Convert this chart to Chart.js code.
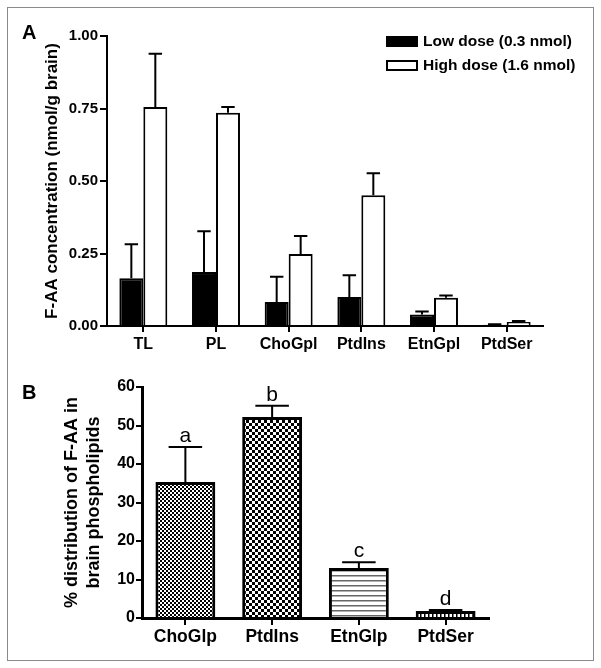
<!DOCTYPE html>
<html>
<head>
<meta charset="utf-8">
<script src="https://cdn.jsdelivr.net/npm/chart.js@4"></script>
<style>
  body { margin: 0; background: #fff; }
  #wrap { position: relative; width: 601px; height: 668px; }
  #frame { position: absolute; left: 7px; top: 7px; width: 585px; height: 652px; border: 1px solid #8a8a8a; }
  canvas { position: absolute; left: 0; }
  .panel { position: absolute; left: 22px; font: bold 20px "Liberation Sans", Arial, sans-serif; color: #000; }
</style>
</head>
<body>
<div id="wrap">
  <div id="frame"></div>
  <canvas id="chartA" width="601" height="360" style="top:0"></canvas>
  <canvas id="chartB" width="601" height="308" style="top:360px"></canvas>
  <div class="panel" style="top:21px">A</div>
  <div class="panel" style="top:381px">B</div>
</div>
<script>
(function () {
    // Panel A: F-AA concentration in lipid classes
    var catsA = ['TL', 'PL', 'ChoGpl', 'PtdIns', 'EtnGpl', 'PtdSer'];
    var lowMean = [0.165, 0.186, 0.083, 0.100, 0.040, 0.004];
    var lowErr = [0.117, 0.141, 0.087, 0.075, 0.010, 0.002];
    var highMean = [0.755, 0.735, 0.248, 0.451, 0.097, 0.014];
    var highErr = [0.184, 0.020, 0.062, 0.076, 0.008, 0.003];
    var ticksA = [0, 0.25, 0.5, 0.75, 1];

    // Panel B: % distribution in phospholipids
    var catsB = ['ChoGlp', 'PtdIns', 'EtnGlp', 'PtdSer'];
    var pctMean = [35.3, 52.2, 13.0, 1.8];
    var pctErr = [9.1, 2.9, 1.5, 0.3];
    var pctLetters = ['a', 'b', 'c', 'd'];

    var FONT = '"Liberation Sans", Arial, sans-serif';
    Chart.defaults.color = '#000';
    Chart.defaults.font.family = FONT;

    function makePattern(size, draw) {
        var c = document.createElement('canvas');
        c.width = size;
        c.height = size;
        var g = c.getContext('2d');
        g.fillStyle = '#fff';
        g.fillRect(0, 0, size, size);
        draw(g);
        return g.createPattern(c, 'repeat');
    }

    var fineChecker = makePattern(4, function (g) {
        g.fillStyle = '#000';
        g.fillRect(0, 0, 2, 2);
        g.fillRect(2, 2, 2, 2);
    });
    var bigChecker = makePattern(6, function (g) {
        g.fillStyle = '#000';
        g.fillRect(0, 0, 3, 3);
        g.fillRect(3, 3, 3, 3);
    });
    var hStripes = makePattern(5, function (g) {
        g.fillStyle = '#666';
        g.fillRect(0, 0, 5, 1.5);
    });
    var dashes = makePattern(4, function (g) {
        g.fillStyle = '#000';
        g.fillRect(0, 0, 1.5, 4);
    });

    var errorBars = {
        id: 'errorBars',
        afterDatasetsDraw: function (chart, args, opts) {
            var ctx = chart.ctx;
            var yScale = chart.scales.y;
            ctx.save();
            ctx.strokeStyle = '#000';
            ctx.lineWidth = opts.lineWidth || 2;
            chart.data.datasets.forEach(function (ds, i) {
                var meta = chart.getDatasetMeta(i);
                meta.data.forEach(function (bar, j) {
                    var top = yScale.getPixelForValue(ds.data[j] + ds.errors[j]);
                    var half = bar.width * 0.28;
                    ctx.beginPath();
                    ctx.moveTo(bar.x, bar.y);
                    ctx.lineTo(bar.x, top);
                    ctx.moveTo(bar.x - half, top);
                    ctx.lineTo(bar.x + half, top);
                    ctx.stroke();
                    if (ds.letters) {
                        ctx.fillStyle = '#000';
                        ctx.font = '21px ' + FONT;
                        ctx.textAlign = 'center';
                        ctx.textBaseline = 'alphabetic';
                        ctx.fillText(ds.letters[j], bar.x, top - 5);
                    }
                });
            });
            ctx.restore();
        }
    };

    var boxLegend = {
        id: 'boxLegend',
        afterDraw: function (chart, args, opts) {
            if (!opts.display) {
                return;
            }
            var ctx = chart.ctx;
            ctx.save();
            ctx.font = 'bold 15.5px ' + FONT;
            ctx.textBaseline = 'middle';
            ctx.textAlign = 'left';
            chart.data.datasets.forEach(function (ds, i) {
                var y = opts.y + i * opts.rowGap;
                ctx.fillStyle = ds.backgroundColor;
                ctx.fillRect(opts.x, y, 30, 9);
                ctx.lineWidth = 2;
                ctx.strokeStyle = '#000';
                ctx.strokeRect(opts.x, y, 30, 9);
                ctx.fillStyle = '#000';
                ctx.fillText(ds.label, opts.x + 36, y + 4.5);
            });
            ctx.restore();
        }
    };

    function axisGrid(len) {
        return {
            drawOnChartArea: false,
            offset: false,
            tickLength: len,
            color: '#000',
            lineWidth: 2
        };
    }

    new Chart(document.getElementById('chartA'), {
        type: 'bar',
        data: {
            labels: catsA,
            datasets: [
                {
                    label: 'Low dose (0.3 nmol)',
                    data: lowMean,
                    errors: lowErr,
                    backgroundColor: '#000',
                    borderColor: '#000',
                    borderWidth: 2,
                    categoryPercentage: 0.66,
                    barPercentage: 1
                },
                {
                    label: 'High dose (1.6 nmol)',
                    data: highMean,
                    errors: highErr,
                    backgroundColor: '#fff',
                    borderColor: '#000',
                    borderWidth: 2,
                    categoryPercentage: 0.66,
                    barPercentage: 1
                }
            ]
        },
        options: {
            responsive: false,
            animation: false,
            layout: { padding: { left: 0, top: 36, right: 58, bottom: 0 } },
            plugins: {
                legend: { display: false },
                tooltip: { enabled: false },
                boxLegend: { display: true, x: 387, y: 37, rowGap: 24 }
            },
            scales: {
                x: {
                    grid: axisGrid(6),
                    border: { color: '#000', width: 2 },
                    ticks: { font: { size: 16, weight: 'bold' }, padding: 3, maxRotation: 0 },
                    afterFit: function (s) { s.height = 34; }
                },
                y: {
                    min: 0,
                    max: 1,
                    afterBuildTicks: function (s) {
                        s.ticks = ticksA.map(function (v) { return { value: v }; });
                    },
                    ticks: {
                        font: { size: 15, weight: 'bold' },
                        padding: 2,
                        callback: function (v) { return Number(v).toFixed(2); }
                    },
                    grid: axisGrid(7),
                    border: { color: '#000', width: 2 },
                    title: {
                        display: true,
                        text: 'F-AA concentration (nmol/g brain)',
                        font: { size: 17, weight: 'bold', lineHeight: 1.2 },
                        padding: { top: 42, bottom: 0 }
                    },
                    afterFit: function (s) { s.width = 107; }
                }
            }
        },
        plugins: [errorBars, boxLegend]
    });

    new Chart(document.getElementById('chartB'), {
        type: 'bar',
        data: {
            labels: catsB,
            datasets: [
                {
                    label: '% distribution',
                    data: pctMean,
                    errors: pctErr,
                    letters: pctLetters,
                    backgroundColor: [fineChecker, bigChecker, hStripes, dashes],
                    borderColor: '#000',
                    borderWidth: 3,
                    categoryPercentage: 0.69,
                    barPercentage: 1
                }
            ]
        },
        options: {
            responsive: false,
            animation: false,
            layout: { padding: { left: 0, top: 27, right: 112, bottom: 0 } },
            plugins: {
                legend: { display: false },
                tooltip: { enabled: false },
                errorBars: { lineWidth: 2 }
            },
            scales: {
                x: {
                    grid: axisGrid(7),
                    border: { color: '#000', width: 3 },
                    ticks: { font: { size: 17.5, weight: 'bold' }, padding: 2, maxRotation: 0 },
                    afterFit: function (s) { s.height = 50; }
                },
                y: {
                    min: 0,
                    max: 60,
                    ticks: { stepSize: 10, font: { size: 16, weight: 'bold' }, padding: 1 },
                    grid: axisGrid(6),
                    border: { color: '#000', width: 3 },
                    title: {
                        display: true,
                        text: ['% distribution of F-AA in', 'brain phospholipids'],
                        font: { size: 18, weight: 'bold', lineHeight: 1.22 },
                        padding: { top: 61, bottom: 0 }
                    },
                    afterFit: function (s) { s.width = 142; }
                }
            }
        },
        plugins: [errorBars]
    });
})();
</script>
</body>
</html>
